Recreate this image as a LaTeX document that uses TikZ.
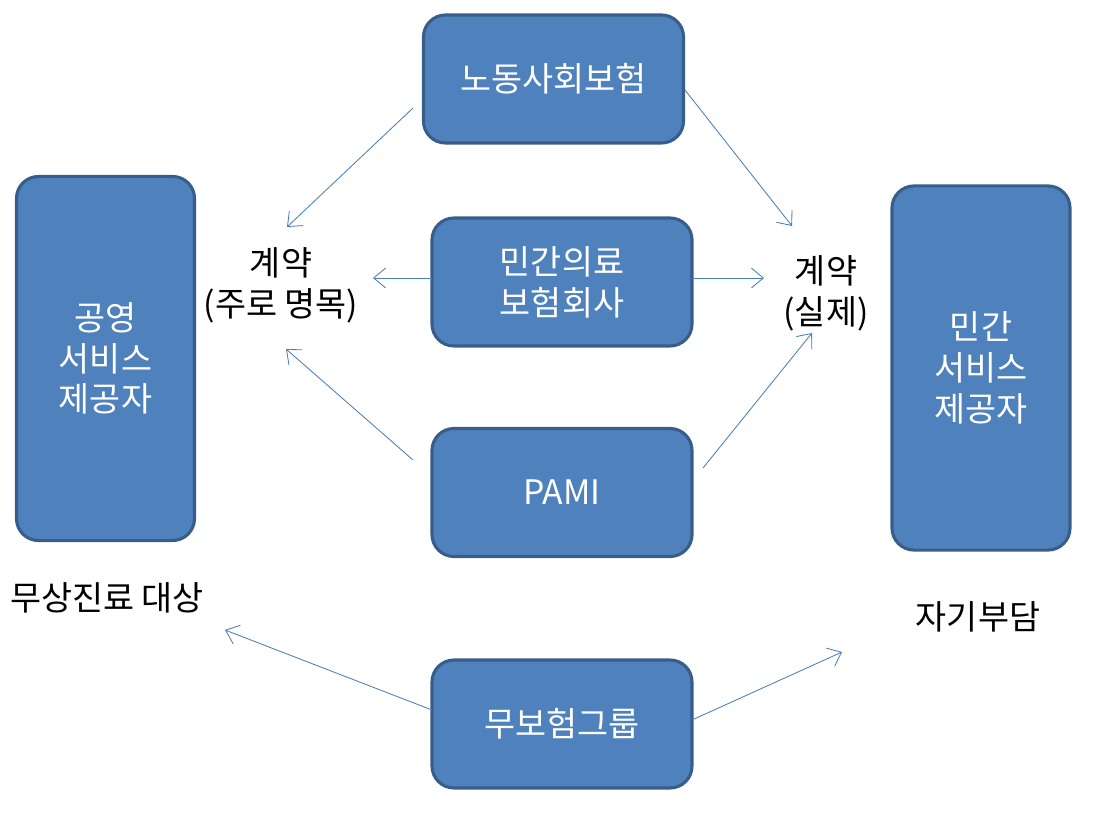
\documentclass[tikz,border=0pt]{standalone}
\usepackage{fontspec}
\setmainfont{Noto Sans CJK KR}
\usetikzlibrary{arrows.meta}
\definecolor{boxfill}{HTML}{4F81BD}
\definecolor{boxedge}{HTML}{385D8A}
\definecolor{arrowline}{HTML}{4A7EBB}
\tikzset{
	insbox/.style={draw=boxedge, fill=boxfill, line width=2.2pt, rounded corners=0.55cm,
		text=white, font=\fontsize{24}{29}\selectfont, align=center,
		minimum width=6.5cm, minimum height=3.2cm, inner sep=0pt},
	provbox/.style={insbox, minimum width=4.45cm, minimum height=9.1cm},
	lbl/.style={font=\fontsize{24}{29}\selectfont, align=center},
	arr/.style={arrowline, line width=0.6pt, -{Straight Barb[length=3mm,width=5mm]}}
}
\begin{document}
\begin{tikzpicture}[x=0.025cm,y=-0.025cm]
		\useasboundingbox (0,0) rectangle (1099,814);
		% insurers in the middle column
		\node[insbox] (lsi) at (553.5,79) {노동사회보험};
		\node[insbox] (priv) at (562,282) {민간의료\\보험회사};
		\node[insbox] (pami) at (562,492.5) {PAMI};
		\node[insbox] (none) at (562,724) {무보험그룹};
		% providers
		\node[provbox] (pub) at (105.5,358.5) {공영\\서비스\\제공자};
		\node[provbox] (prv) at (981,368) {민간\\서비스\\제공자};
		% labels
		\node[lbl] (cnom) at (281,285) {계약\\(주로 명목)};
		\node[lbl] (creal) at (826,293) {계약\\(실제)};
		\node[lbl] (free) at (107,598) {무상진료 대상};
		\node[lbl] (self) at (978,617) {자기부담};
		% arrow ends
		\coordinate (lsiL) at (413,108);  \coordinate (cnomT) at (287,227);
		\coordinate (lsiR) at (685,90);   \coordinate (crealT) at (792,226);
		\coordinate (privL) at (432,278); \coordinate (cnomR) at (373,278);
		\coordinate (privR) at (692,278); \coordinate (crealL) at (764,278);
		\coordinate (pamiL) at (413,460); \coordinate (cnomB) at (286,349);
		\coordinate (pamiR) at (703,468); \coordinate (crealB) at (812,333);
		\coordinate (noneL) at (432,710); \coordinate (freeB) at (225,630);
		\coordinate (noneR) at (692,720); \coordinate (selfB) at (842,652);
		\foreach \a/\b in {lsiL/cnomT,lsiR/crealT,privL/cnomR,privR/crealL,pamiL/cnomB,pamiR/crealB,noneL/freeB,noneR/selfB}
			\draw[arr] (\a)--(\b);
\end{tikzpicture}
\end{document}
